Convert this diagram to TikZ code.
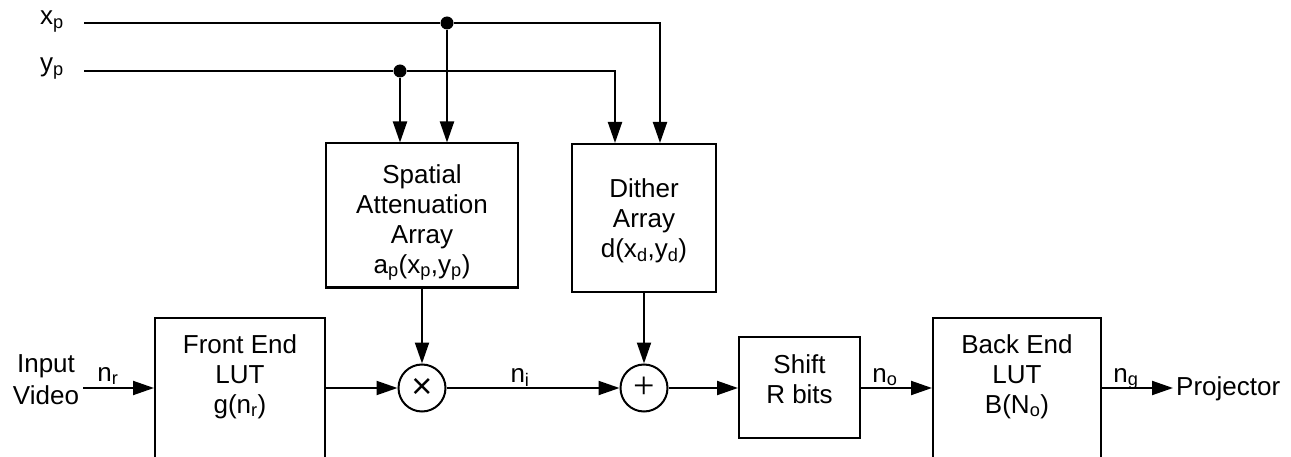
\documentclass[tikz,border=0pt]{standalone}
\usepackage{fontspec}
\setmainfont{Liberation Sans}
\newfontfamily\plusfont{Liberation Serif}
\usetikzlibrary{arrows.meta}
\newcommand\lo[1]{\textsubscript{#1}}
\tikzset{
  ln/.style={line width=2pt},
  arr/.style={line width=2pt,-{Triangle[length=21pt,width=14pt]}},
  box/.style={draw,line width=2pt,rectangle,inner sep=0pt},
  txt/.style={font=\fontsize{26}{30}\selectfont,align=center,inner sep=0pt},
  op/.style={draw,line width=2pt,circle,minimum size=47pt,inner sep=0pt},
  jdot/.style={circle,fill,minimum size=13pt,inner sep=0pt}
}
\begin{document}
\begin{tikzpicture}[x=1pt,y=-1pt]
\useasboundingbox (0,0) rectangle (1291,457);
\clip (0,0) rectangle (1291,457);
% labels of the coordinate inputs
\node[txt,anchor=base west] (xp) at (40,25) {x\lo{p}};
\node[txt,anchor=base west] (yp) at (40,72) {y\lo{p}};
\coordinate (xs) at (84,23);
\coordinate (ys) at (84,71);
% boxes
\node[box,minimum width=192pt,minimum height=144pt] (sp) at (422,215.5) {};
\node[txt,anchor=north] (spt) at (422,164) {Spatial\\Attenuation\\Array\\a\lo{p}(x\lo{p},y\lo{p})};
\node[box,minimum width=144pt,minimum height=148pt] (di) at (644,218) {};
\node[txt,anchor=north] (dit) at (644,178) {Dither\\Array\\d(x\lo{d},y\lo{d})};
\node[box,minimum width=170pt,minimum height=170pt,anchor=north] (fe) at (240,317) {};
\node[txt,anchor=north] (fet) at (240,334) {Front End\\LUT\\g(n\lo{r})};
\node[box,minimum width=121pt,minimum height=101pt] (sh) at (799.5,387.5) {};
\node[txt,anchor=north] (sht) at (799.5,354) {Shift\\R bits};
\node[box,minimum width=168pt,minimum height=170pt,anchor=north] (be) at (1017,317) {};
\node[txt,anchor=north] (bet) at (1017,334) {Back End\\LUT\\B(N\lo{o})};
% operators
\node[op,font=\fontsize{36}{36}\selectfont] (mul) at (422,388) {×};
\node[op,font=\plusfont\fontsize{38}{38}\selectfont] (add) at (644,388) {+};
% junction dots
\node[jdot] (xd) at (447,23) {};
\node[jdot] (yd) at (400,71) {};
% top distribution lines
\draw[ln] (xs) -- (xd);
\draw[ln] (ys) -- (yd);
\draw[arr] (xd) -| ([xshift=16pt]di.north);
\draw[arr] (yd) -| ([xshift=-29pt]di.north);
\draw[arr] (xd) -- (xd |- sp.north);
\draw[arr] (yd) -- (yd |- sp.north);
% main chain
\node[txt,anchor=north,font=\fontsize{26}{32}\selectfont] (inp) at (46,354) {Input\\Video};
\coordinate (vin) at (83,388);
\draw[arr] (vin) -- (fe.west |- mul);
\node[txt,anchor=base] (nr) at (108,381) {n\lo{r}};
\draw[arr] (fe.east |- mul) -- (mul.west);
\draw[arr] (sp.south) -- (mul.north);
\draw[arr] (mul.east) -- (add.west);
\node[txt,anchor=base] (ni) at (520,382) {n\lo{i}};
\draw[arr] (di.south) -- (add.north);
\draw[arr] (add.east) -- (sh.west |- add);
\draw[arr] (sh.east |- add) -- (be.west |- add);
\node[txt,anchor=base] (no) at (885,382) {n\lo{o}};
\coordinate (pin) at (1173,388);
\draw[arr] (be.east |- mul) -- (pin);
\node[txt,anchor=base] (ng) at (1126,382) {n\lo{g}};
\node[txt,anchor=base west] (pr) at (1176,395) {Projector};
\end{tikzpicture}
\end{document}
